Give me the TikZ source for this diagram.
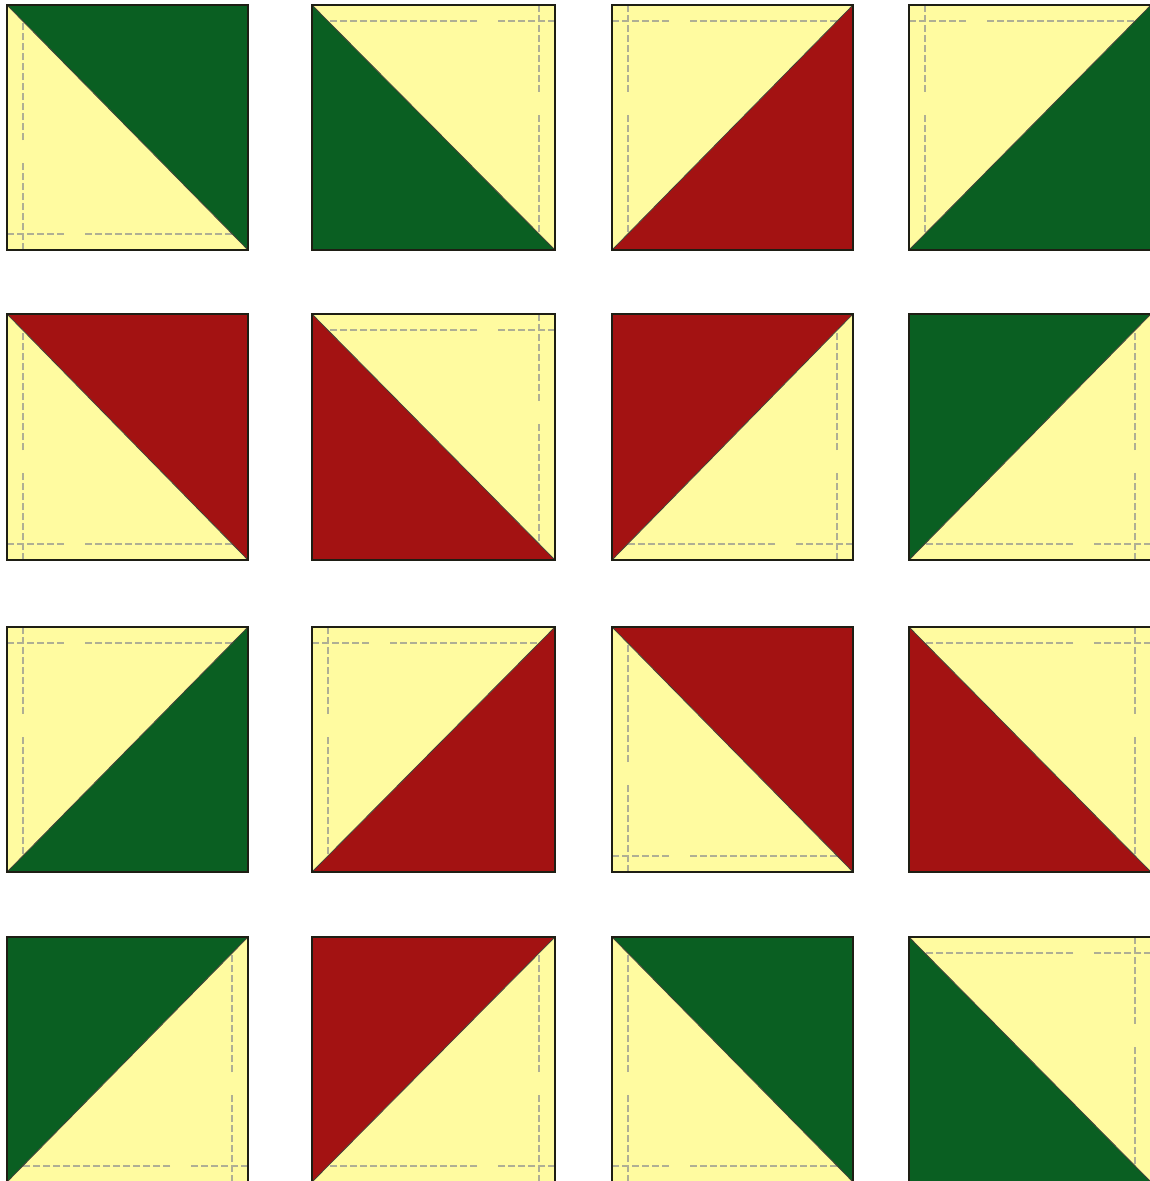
\documentclass[tikz,border=0pt]{standalone}
\usetikzlibrary{calc}
\definecolor{qgreen}{RGB}{10,95,34}
\definecolor{qred}{RGB}{163,18,18}
\definecolor{qyellow}{RGB}{255,251,160}
\definecolor{qdash}{RGB}{175,175,148}
\definecolor{qborder}{RGB}{30,30,20}
\tikzset{
  dl/.style={qdash, line width=1.1pt, dash pattern=on 7pt off 3pt},
  diagline/.style={qborder!85, line width=0.8pt},
  bord/.style={qborder, line width=1.5pt},
}
% #1 cx, #2 cy (yellow right-angle corner), #3 ox, #4 oy (opposite corner), #5 colour
\newcommand\hstile[5]{%
  \coordinate (C) at (#1,#2);
  \coordinate (O) at (#3,#4);
  \coordinate (H) at (#3,#2);
  \coordinate (V) at (#1,#4);
  \fill[#5] (O) -- (H) -- (V) -- cycle;
  \fill[qyellow] (C) -- (H) -- (V) -- cycle;
  \begin{scope}
    \clip (C) -- (H) -- (V) -- cycle;
    \coordinate (C1) at ($(C)!16pt!(V)$);
    \coordinate (H1) at ($(H)!16pt!(O)$);
    \draw[dl] (C1) -- ($(C1)!58pt!(H1)$) ($(C1)!78pt!(H1)$) -- (H1);
    \coordinate (C2) at ($(C)!16pt!(H)$);
    \coordinate (V2) at ($(V)!16pt!(O)$);
    \draw[dl] (C2) -- ($(C2)!88pt!(V2)$) ($(C2)!110pt!(V2)$) -- (V2);
  \end{scope}
  \draw[diagline] (H) -- (V);
  \draw[bord] (C) rectangle (O);
}
\begin{document}
\begin{tikzpicture}[x=1pt,y=-1pt]
\fill[white] (0,0) rectangle (1149,1181);
\useasboundingbox (0,0) rectangle (1149,1181);
% columns L: 7 312 612 909 ; R: 248 555 853 1151
% rows    T: 5 314 627 937 ; B: 250 560 872 1182
% Row 1
\hstile{7}{250}{248}{5}{qgreen}
\hstile{555}{5}{312}{250}{qgreen}
\hstile{612}{5}{853}{250}{qred}
\hstile{909}{5}{1151}{250}{qgreen}
% Row 2
\hstile{7}{560}{248}{314}{qred}
\hstile{555}{314}{312}{560}{qred}
\hstile{853}{560}{612}{314}{qred}
\hstile{1151}{560}{909}{314}{qgreen}
% Row 3
\hstile{7}{627}{248}{872}{qgreen}
\hstile{312}{627}{555}{872}{qred}
\hstile{612}{872}{853}{627}{qred}
\hstile{1151}{627}{909}{872}{qred}
% Row 4
\hstile{248}{1182}{7}{937}{qgreen}
\hstile{555}{1182}{312}{937}{qred}
\hstile{612}{1182}{853}{937}{qgreen}
\hstile{1151}{937}{909}{1182}{qgreen}
\end{tikzpicture}
\end{document}
